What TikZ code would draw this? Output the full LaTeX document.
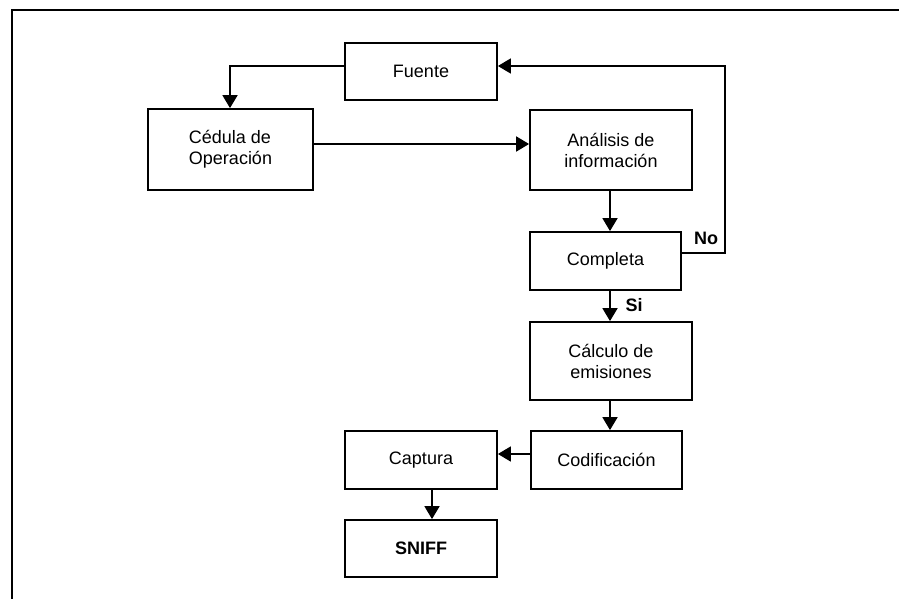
\documentclass[tikz,border=0pt]{standalone}
\usepackage{fontspec}
\setmainfont{Liberation Sans}
\usetikzlibrary{arrows.meta}
\begin{document}
\begin{tikzpicture}[x=1pt,y=-1pt,
  box/.style={draw, line width=1.8pt, inner sep=0pt, font=\fontsize{18}{21}\selectfont, align=center},
  arr/.style={line width=1.8pt, -{Triangle[length=13pt,width=15pt]}},
  lbl/.style={font=\fontsize{18}{21}\selectfont\bfseries}]
\useasboundingbox (0,0) rectangle (899,599);
\coordinate (f1) at (12,599);
\coordinate (f2) at (12,10.5);
\coordinate (f3) at (899,10.5);
\draw[line width=2pt] (f1) -- (f2) -- (f3);
\node[box, minimum width=152pt, minimum height=57pt] (fu) at (421,71.5) {Fuente};
\node[box, minimum width=165pt, minimum height=81pt, align=left] (ce) at (230.5,149.5) {Cédula de\\Operación};
\node[box, minimum width=162pt, minimum height=80pt] (an) at (611,150) {Análisis de\\información};
\node[box, minimum width=151pt, minimum height=58pt] (co) at (605.5,261) {Completa};
\node[box, minimum width=162pt, minimum height=78pt] (cal) at (611,361) {Cálculo de\\emisiones};
\node[box, minimum width=151pt, minimum height=58pt] (cod) at (606.5,460) {Codificación};
\node[box, minimum width=152pt, minimum height=58pt] (cap) at (421,460) {Captura};
\node[box, minimum width=152pt, minimum height=57pt, font=\fontsize{18}{21}\selectfont\bfseries] (sn) at (421,548.5) {SNIFF};
\node[lbl] (no) at (706,238) {No};
\node[lbl] (si) at (634,305.5) {Si};
\coordinate (k1) at (230,66);
\coordinate (y1) at (0,144);
\coordinate (x1) at (610,0);
\coordinate (y2) at (0,454);
\coordinate (x2) at (432,0);
\coordinate (r1) at (725,253);
\coordinate (r2) at (725,66);
\draw[arr] (fu.west |- k1) -- (k1) -- (ce.north -| k1);
\draw[arr] (ce.east |- y1) -- (an.west |- y1);
\draw[arr] (an.south -| x1) -- (co.north -| x1);
\draw[arr] (co.south -| x1) -- (cal.north -| x1);
\draw[arr] (cal.south -| x1) -- (cod.north -| x1);
\draw[arr] (cod.west |- y2) -- (cap.east |- y2);
\draw[arr] (cap.south -| x2) -- (sn.north -| x2);
\draw[arr] (co.east |- r1) -- (r1) -- (r2) -- (fu.east |- r2);
\end{tikzpicture}
\end{document}
